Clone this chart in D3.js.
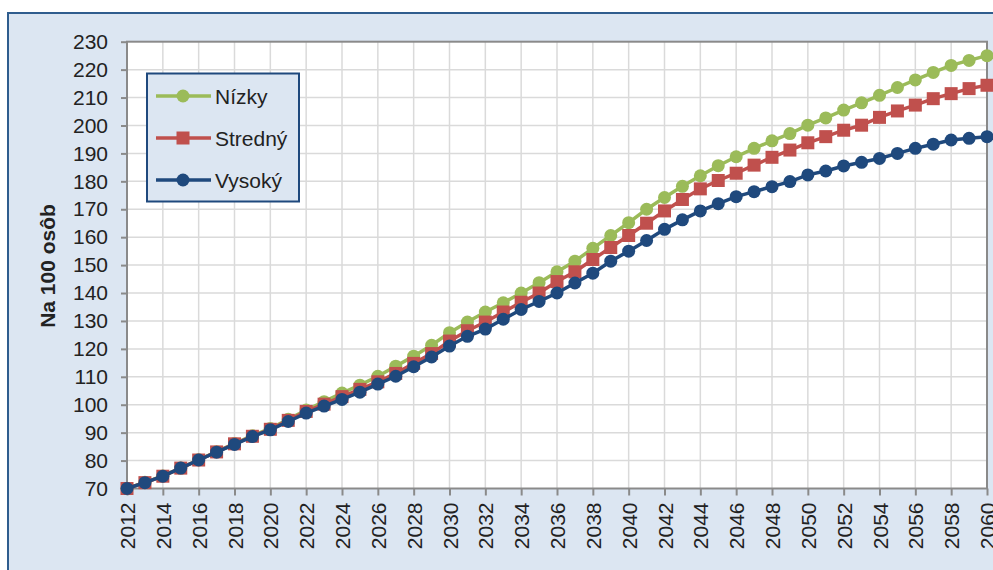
<!DOCTYPE html>
<html>
<head>
<meta charset="utf-8">
<script src="https://cdn.jsdelivr.net/npm/d3@7"></script>
<style>
    body { margin: 0; background: #fff; }
    svg { display: block; font-family: "Liberation Sans", Arial, sans-serif; }
</style>
</head>
<body>
<div class="visContainer"></div>
<script>
// Data.
const YEARS = [
    2012, 2013, 2014, 2015, 2016, 2017, 2018, 2019, 2020, 2021,
    2022, 2023, 2024, 2025, 2026, 2027, 2028, 2029, 2030, 2031,
    2032, 2033, 2034, 2035, 2036, 2037, 2038, 2039, 2040, 2041,
    2042, 2043, 2044, 2045, 2046, 2047, 2048, 2049, 2050, 2051,
    2052, 2053, 2054, 2055, 2056, 2057, 2058, 2059, 2060
];
const NIZKY = [
    70, 72.2, 74.5, 77.3, 80.3, 83.2, 86.1, 88.9, 91.5, 94.8,
    98.1, 101.1, 104.2, 107, 110.2, 113.8, 117.4, 121.3, 125.8, 129.6,
    133.2, 136.5, 140, 143.7, 147.6, 151.4, 156, 160.6, 165.2, 170,
    174.2, 178.2, 182, 185.6, 188.8, 191.8, 194.5, 197.1, 200.1, 202.7,
    205.5, 208.1, 210.8, 213.6, 216.3, 219, 221.5, 223.3, 225
];
const STREDNY = [
    70, 72.1, 74.4, 77.3, 80.2, 83.1, 86, 88.7, 91.2, 94.4,
    97.6, 100.2, 102.9, 105.5, 108.2, 111.2, 114.8, 118.3, 122.8, 126.5,
    129.6, 133.2, 136.7, 140, 144.1, 147.6, 152, 156.3, 160.6, 165,
    169.4, 173.5, 177.3, 180.3, 182.9, 185.8, 188.6, 191.2, 193.8, 196,
    198.3, 200.1, 202.9, 205.2, 207.3, 209.6, 211.4, 213.2, 214.4
];
const VYSOKY = [
    70, 72.1, 74.4, 77.3, 80.2, 83, 85.8, 88.6, 91, 94,
    97, 99.5, 101.9, 104.5, 107.4, 110.2, 113.6, 117.1, 121, 124.5,
    127.1, 130.6, 134.1, 137, 140, 143.6, 147.1, 151.4, 155, 158.8,
    162.8, 166.2, 169.4, 172, 174.5, 176.3, 178.1, 179.9, 182.3, 183.7,
    185.5, 186.8, 188.2, 190, 191.8, 193.3, 194.8, 195.4, 196
];
const X_TICKS = [
    2012, 2014, 2016, 2018, 2020, 2022, 2024, 2026, 2028, 2030, 2032, 2034, 2036,
    2038, 2040, 2042, 2044, 2046, 2048, 2050, 2052, 2054, 2056, 2058, 2060
];
const Y_TICKS = [70, 80, 90, 100, 110, 120, 130, 140, 150, 160, 170, 180, 190, 200, 210, 220, 230];
const SERIES_NAMES = ['Nízky', 'Stredný', 'Vysoký'];
const Y_TITLE = 'Na 100 osôb';

drawChart();

function drawChart(){
    // SVG constants.
    const width = 993;
    const height = 570;
    const plot = { left: 127, top: 41.7, right: 987, bottom: 488.5 };
    const textColor = '#222';
    const axisColor = '#8a8a8a';

    const series = [
        { name: SERIES_NAMES[0], values: NIZKY, color: '#9bbb59', shape: 'circle' },
        { name: SERIES_NAMES[1], values: STREDNY, color: '#c0504d', shape: 'square' },
        { name: SERIES_NAMES[2], values: VYSOKY, color: '#1f497d', shape: 'circle' }
    ];

    const svg = d3.select('.visContainer')
                  .append('svg')
                  .attr('width', width)
                  .attr('height', height);

    // Background panel.
    svg.append('rect')
       .attr('x', 8)
       .attr('y', 13)
       .attr('width', width + 20)
       .attr('height', height + 20)
       .attr('fill', '#dce6f2')
       .attr('stroke', '#2f5d8e')
       .attr('stroke-width', 2);

    // Scales.
    const x = d3.scaleLinear()
                .domain([YEARS[0], YEARS[YEARS.length - 1]])
                .range([plot.left, plot.right]);
    const y = d3.scaleLinear()
                .domain([Y_TICKS[0], Y_TICKS[Y_TICKS.length - 1]])
                .range([plot.bottom, plot.top]);

    // Plot area.
    svg.append('rect')
       .attr('x', plot.left)
       .attr('y', plot.top)
       .attr('width', plot.right - plot.left)
       .attr('height', plot.bottom - plot.top)
       .attr('fill', '#fff');

    // Grid.
    svg.append('g')
       .selectAll('line')
       .data(X_TICKS.slice(1, -1))
       .join('line')
       .attr('x1', d => x(d))
       .attr('x2', d => x(d))
       .attr('y1', plot.top)
       .attr('y2', plot.bottom)
       .attr('stroke', '#dadada')
       .attr('stroke-width', 1.5);
    svg.append('g')
       .selectAll('line')
       .data(Y_TICKS.slice(1, -1))
       .join('line')
       .attr('x1', plot.left)
       .attr('x2', plot.right)
       .attr('y1', d => y(d))
       .attr('y2', d => y(d))
       .attr('stroke', '#dadada')
       .attr('stroke-width', 1.5);

    // Plot border.
    svg.append('rect')
       .attr('x', plot.left)
       .attr('y', plot.top)
       .attr('width', plot.right - plot.left)
       .attr('height', plot.bottom - plot.top)
       .attr('fill', 'none')
       .attr('stroke', axisColor)
       .attr('stroke-width', 2);

    // Axes.
    const xAxis = svg.append('g')
                     .attr('transform', `translate(0,${plot.bottom})`)
                     .call(d3.axisBottom(x).tickValues(X_TICKS).tickFormat(d3.format('d')).tickSize(7).tickSizeOuter(0));
    xAxis.select('.domain').remove();
    xAxis.selectAll('line').attr('stroke', axisColor).attr('stroke-width', 2);
    xAxis.selectAll('text')
         .attr('transform', 'rotate(-90)')
         .attr('x', -14)
         .attr('y', 0)
         .attr('dy', '0.36em')
         .attr('text-anchor', 'end')
         .attr('font-size', '21px')
         .attr('fill', textColor);

    const yAxis = svg.append('g')
                     .attr('transform', `translate(${plot.left},0)`)
                     .call(d3.axisLeft(y).tickValues(Y_TICKS).tickSize(6).tickSizeOuter(0).tickPadding(13));
    yAxis.select('.domain').remove();
    yAxis.selectAll('line').attr('stroke', axisColor).attr('stroke-width', 2);
    yAxis.selectAll('text')
         .attr('font-size', '21px')
         .attr('fill', textColor);
    svg.selectAll('.tick text').attr('font-family', null);
    svg.selectAll('g').attr('font-family', null);

    // Y title.
    svg.append('text')
       .attr('transform', 'translate(47,266) rotate(-90)')
       .attr('text-anchor', 'middle')
       .attr('dy', '0.36em')
       .attr('font-size', '21px')
       .attr('font-weight', 'bold')
       .attr('fill', textColor)
       .text(Y_TITLE);

    // Lines and markers.
    const line = d3.line()
                   .x((d, i) => x(YEARS[i]))
                   .y(d => y(d));

    series.forEach(s => {
        const g = svg.append('g');
        g.append('path')
         .attr('d', line(s.values))
         .attr('fill', 'none')
         .attr('stroke', s.color)
         .attr('stroke-width', 3.5);
        drawMarkers(g, s, s.values.map((v, i) => [x(YEARS[i]), y(v)]));
    });

    // Legend.
    const legend = svg.append('g');
    legend.append('rect')
          .attr('x', 147)
          .attr('y', 73.5)
          .attr('width', 152)
          .attr('height', 128)
          .attr('fill', '#dce6f2')
          .attr('stroke', '#1f497d')
          .attr('stroke-width', 2);
    const rowY = [96, 138, 180];
    series.forEach((s, i) => {
        const g = legend.append('g');
        g.append('line')
         .attr('x1', 156)
         .attr('x2', 211)
         .attr('y1', rowY[i])
         .attr('y2', rowY[i])
         .attr('stroke', s.color)
         .attr('stroke-width', 3.5);
        drawMarkers(g, s, [[183, rowY[i]]]);
        g.append('text')
         .attr('x', 215)
         .attr('y', rowY[i])
         .attr('dy', '0.36em')
         .attr('font-size', '21px')
         .attr('fill', textColor)
         .text(s.name);
    });
}

function drawMarkers(g, s, points){
    if (s.shape === 'square') {
        g.selectAll('rect.marker')
         .data(points)
         .join('rect')
         .attr('class', 'marker')
         .attr('x', d => d[0] - 6.5)
         .attr('y', d => d[1] - 6.5)
         .attr('width', 13)
         .attr('height', 13)
         .attr('fill', s.color);
    } else {
        g.selectAll('circle.marker')
         .data(points)
         .join('circle')
         .attr('class', 'marker')
         .attr('cx', d => d[0])
         .attr('cy', d => d[1])
         .attr('r', 6.5)
         .attr('fill', s.color);
    }
}
</script>
</body>
</html>
